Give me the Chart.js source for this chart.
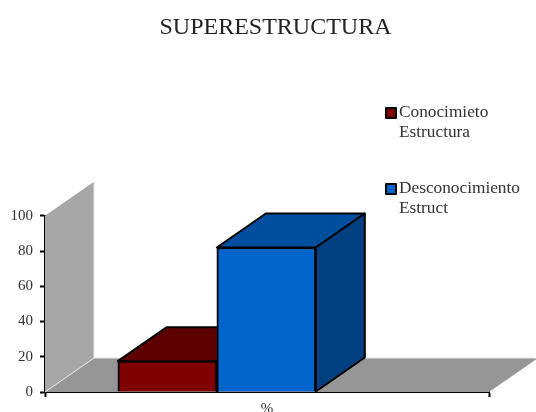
<!DOCTYPE html>
<html>
<head>
<meta charset="utf-8">
<style>
html, body { margin: 0; padding: 0; background: #fff; overflow: hidden; }
canvas { display: block; filter: blur(0.5px); }
</style>
<script src="https://cdn.jsdelivr.net/npm/chart.js@4"></script>
</head>
<body>
<canvas id="grafico" width="536" height="412"></canvas>
<script>
var titulo = 'SUPERESTRUCTURA';
var categoria = '%';
var serieConocimiento = [17.5];
var serieDesconocimiento = [82];
var leyendaConocimiento = ['Conocimieto', 'Estructura'];
var leyendaDesconocimiento = ['Desconocimiento', 'Estruct'];

var FONT = '"Liberation Serif", "Times New Roman", serif';
var DX = 49, DY = 34; // profundidad del efecto 3D
var COLORES = [
    { front: '#800000', top: '#5e0000', side: '#4a0000' },
    { front: '#0066cc', top: '#004f9f', side: '#003f80' }
];

function poly(ctx, pts, fill, stroke, lw){
    ctx.beginPath();
    ctx.moveTo(pts[0][0], pts[0][1]);
    for(var i = 1; i < pts.length; i++)
        ctx.lineTo(pts[i][0], pts[i][1]);
    ctx.closePath();
    ctx.fillStyle = fill;
    ctx.fill();
    if(stroke){
        ctx.strokeStyle = stroke;
        ctx.lineWidth = lw;
        ctx.lineJoin = 'round';
        ctx.stroke();
    }
}

var efecto3d = {
    id: 'efecto3d',
    afterLayout: function(chart){
        // el titulo va un poco a la derecha del centro del area
        chart.titleBlock.left = 31;
        chart.titleBlock.right = 520;
    },
    beforeDatasetsDraw: function(chart){
        var ctx = chart.ctx, a = chart.chartArea;

        // pared y piso
        poly(ctx, [[a.left, a.bottom], [a.left, a.top], [a.left + DX, a.top - DY], [a.left + DX, a.bottom - DY]], '#a6a6a6');
        poly(ctx, [[a.left, a.bottom], [a.right, a.bottom], [a.right + DX, a.bottom - DY], [a.left + DX, a.bottom - DY]], '#969696');
        ctx.beginPath();
        ctx.moveTo(a.left, a.bottom);
        ctx.lineTo(a.left + DX, a.bottom - DY);
        ctx.lineTo(a.left + DX, a.top - DY);
        ctx.moveTo(a.left + DX, a.bottom - DY);
        ctx.lineTo(a.right + DX, a.bottom - DY);
        ctx.strokeStyle = '#e8e8e8';
        ctx.lineWidth = 1;
        ctx.stroke();

        // caras superior y lateral de las barras
        chart.data.datasets.forEach(function(ds, i){
            var bar = chart.getDatasetMeta(i).data[0];
            var l = bar.x - bar.width / 2, r = bar.x + bar.width / 2;
            var t = bar.y, b = bar.base;
            poly(ctx, [[l, t], [r, t], [r + DX, t - DY], [l + DX, t - DY]], COLORES[i].top, '#000', 2);
            poly(ctx, [[r, t], [r, b], [r + DX, b - DY], [r + DX, t - DY]], COLORES[i].side, '#000', 2);
        });
    },
    afterDraw: function(chart){
        var ctx = chart.ctx;
        var x = 385, ys = [107, 183];
        ctx.save();
        chart.data.datasets.forEach(function(ds, i){
            ctx.fillStyle = COLORES[i].front;
            ctx.strokeStyle = '#000';
            ctx.lineWidth = 2;
            ctx.fillRect(x + 1, ys[i] + 1, 10, 10);
            ctx.strokeRect(x + 1, ys[i] + 1, 10, 10);
            ctx.fillStyle = '#333';
            ctx.font = '17.3px ' + FONT;
            ctx.textAlign = 'left';
            ctx.textBaseline = 'middle';
            ds.label.forEach(function(linea, n){
                ctx.fillText(linea, x + 14, ys[i] + 5 + n * 20.5);
            });
        });
        ctx.restore();
    }
};

new Chart(document.getElementById('grafico'), {
    type: 'bar',
    data: {
        datasets: [{
            label: leyendaConocimiento,
            data: serieConocimiento.map(function(v){ return { x: 38.7, y: v }; }),
            backgroundColor: COLORES[0].front,
            borderColor: '#000',
            borderWidth: 2,
            barThickness: 99
        }, {
            label: leyendaDesconocimiento,
            data: serieDesconocimiento.map(function(v){ return { x: 38.7, y: v }; }),
            backgroundColor: COLORES[1].front,
            borderColor: '#000',
            borderWidth: 2,
            barThickness: 99
        }]
    },
    options: {
        responsive: false,
        animation: false,
        layout: { padding: { left: 0, right: 47, top: 0, bottom: 0 } },
        plugins: {
            legend: { display: false },
            tooltip: { enabled: false },
            title: {
                display: true,
                text: titulo,
                color: '#222',
                font: { family: FONT, size: 24, weight: 'normal' },
                padding: { top: 13, bottom: 174 }
            }
        },
        scales: {
            x: {
                type: 'linear',
                min: 0,
                max: 100,
                offset: false,
                afterBuildTicks: function(scale){
                    scale.ticks = [{ value: 0 }, { value: 50 }, { value: 100 }];
                },
                afterFit: function(scale){ scale.height = 20; },
                border: { color: '#000', width: 2 },
                grid: {
                    offset: false,
                    drawOnChartArea: false,
                    tickLength: 5,
                    tickColor: function(c){ return c.tick && c.tick.value == 50 ? 'rgba(0,0,0,0)' : '#000'; },
                    tickWidth: 2
                },
                ticks: {
                    autoSkip: false,
                    maxRotation: 0,
                    padding: 3,
                    color: '#333',
                    font: { family: FONT, size: 15 },
                    callback: function(v){ return v == 50 ? categoria : ''; }
                }
            },
            y: {
                min: 0,
                max: 100,
                afterFit: function(scale){ scale.width = 45; },
                border: { color: '#000', width: 2 },
                grid: { drawOnChartArea: false, tickLength: 5, tickColor: '#000', tickWidth: 2 },
                ticks: {
                    stepSize: 20,
                    padding: 7,
                    color: '#333',
                    font: { family: FONT, size: 15 }
                }
            }
        }
    },
    plugins: [efecto3d]
});
</script>
</body>
</html>
